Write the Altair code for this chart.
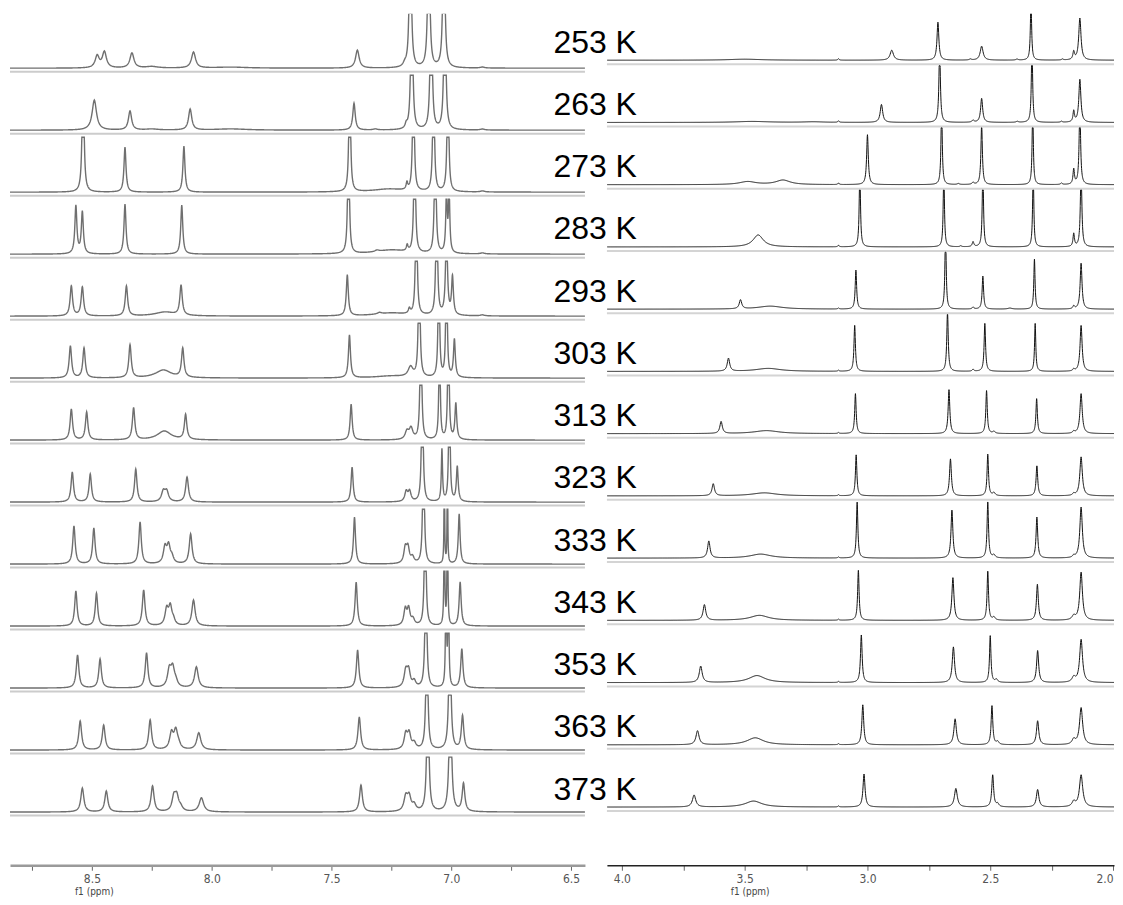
import numpy as np
import pandas as pd
import altair as alt

alt.data_transformers.disable_max_rows()

TEMPS = [253, 263, 273, 283, 293, 303, 313, 323, 333, 343, 353, 363, 373]

# Peak tables: (ppm, height in px, half width at half max in ppm)
# Aromatic region (left panel)
ARO_253 = [(8.478, 12, 0.010), (8.448, 16, 0.010), (8.333, 15, 0.010), (8.25, 1.5, 0.03),
           (8.076, 16, 0.010), (7.92, 1, 0.08), (7.392, 18, 0.009), (7.194, 3, 0.008),
           (7.171, 200, 0.004), (7.094, 200, 0.004), (7.031, 200, 0.004), (6.87, 1, 0.01)]
ARO_263 = [(8.49, 30, 0.011), (8.341, 19, 0.008), (8.25, 1, 0.03), (8.09, 21, 0.008),
           (7.92, 1.2, 0.08), (7.406, 27, 0.006), (7.317, 1, 0.01), (7.188, 4, 0.005),
           (7.165, 200, 0.0038), (7.084, 200, 0.0038), (7.027, 200, 0.0038), (6.87, 1, 0.01)]
ARO_273 = [(8.537, 150, 0.004), (8.362, 45, 0.005), (8.116, 46, 0.005), (7.424, 150, 0.0035),
           (7.26, 3, 0.08), (7.185, 7, 0.004), (7.158, 150, 0.0035), (7.074, 150, 0.0035),
           (7.014, 150, 0.0035), (6.87, 1, 0.01)]
ARO_283 = [(8.567, 48, 0.005), (8.54, 42, 0.005), (8.362, 50, 0.005), (8.125, 49, 0.005),
           (7.429, 150, 0.0035), (7.31, 1.5, 0.01), (7.25, 4, 0.08), (7.184, 6, 0.004),
           (7.153, 150, 0.0035), (7.067, 150, 0.0035), (7.020, 60, 0.0035), (7.009, 60, 0.0035),
           (6.87, 1, 0.01)]
ARO_293 = [(8.586, 30, 0.006), (8.54, 29, 0.006), (8.356, 30, 0.006), (8.195, 4, 0.05),
           (8.128, 30, 0.006), (7.434, 41, 0.005), (7.30, 1.5, 0.01), (7.25, 3, 0.08),
           (7.175, 5, 0.005), (7.146, 150, 0.0035), (7.061, 150, 0.0035), (7.02, 90, 0.0045),
           (6.995, 38, 0.0045), (6.87, 1, 0.01)]
ARO_303 = [(8.59, 32, 0.006), (8.533, 30, 0.006), (8.341, 33, 0.006), (8.202, 8, 0.04),
           (8.121, 29, 0.006), (7.425, 43, 0.005), (7.25, 2, 0.08), (7.17, 10, 0.012),
           (7.134, 150, 0.0035), (7.052, 150, 0.003), (7.02, 150, 0.003), (6.987, 38, 0.0045)]
ARO_313 = [(8.586, 31, 0.006), (8.522, 28, 0.006), (8.326, 32, 0.006), (8.198, 9, 0.035),
           (8.109, 25, 0.006), (7.418, 36, 0.005), (7.185, 8, 0.009), (7.168, 11, 0.009),
           (7.127, 150, 0.0035), (7.049, 120, 0.003), (7.012, 150, 0.003), (6.981, 36, 0.0045)]
ARO_323 = [(8.582, 30, 0.006), (8.507, 28, 0.006), (8.317, 33, 0.006), (8.202, 10, 0.009),
           (8.188, 10, 0.009), (8.103, 25, 0.007), (7.414, 35, 0.005), (7.188, 10, 0.007),
           (7.174, 10, 0.007), (7.121, 150, 0.0035), (7.039, 52, 0.003), (7.008, 150, 0.003),
           (6.975, 35, 0.0045)]
ARO_333 = [(8.575, 38, 0.006), (8.492, 36, 0.006), (8.299, 42, 0.006), (8.195, 16, 0.008),
           (8.18, 17, 0.008), (8.166, 6, 0.008), (8.088, 30, 0.007), (7.404, 47, 0.005),
           (7.192, 15, 0.007), (7.181, 15, 0.007), (7.162, 6, 0.008), (7.116, 150, 0.0035),
           (7.029, 150, 0.0012), (7.016, 150, 0.0012), (6.967, 50, 0.0045)]
ARO_343 = [(8.567, 35, 0.006), (8.481, 33, 0.006), (8.284, 36, 0.0065), (8.188, 16, 0.008),
           (8.173, 18, 0.008), (8.16, 5, 0.008), (8.076, 26, 0.008), (7.397, 44, 0.0055),
           (7.192, 16, 0.007), (7.178, 16, 0.007), (7.16, 6, 0.008), (7.109, 150, 0.0035),
           (7.029, 150, 0.0017), (7.016, 150, 0.0017), (6.963, 44, 0.005)]
ARO_353 = [(8.56, 33, 0.0065), (8.466, 29, 0.0065), (8.272, 35, 0.0065), (8.177, 17, 0.009),
           (8.163, 18, 0.009), (8.15, 5, 0.009), (8.064, 21, 0.009), (7.391, 38, 0.006),
           (7.19, 16, 0.008), (7.178, 16, 0.008), (7.155, 6, 0.008), (7.106, 150, 0.0038),
           (7.022, 150, 0.002), (7.012, 150, 0.002), (6.956, 39, 0.0055)]
ARO_363 = [(8.549, 29, 0.007), (8.451, 25, 0.007), (8.257, 30, 0.007), (8.168, 16, 0.009),
           (8.15, 18, 0.009), (8.138, 4, 0.009), (8.054, 17, 0.01), (7.384, 33, 0.0065),
           (7.19, 15, 0.008), (7.176, 15, 0.008), (7.155, 6, 0.009), (7.102, 150, 0.004),
           (7.006, 150, 0.0045), (6.953, 34, 0.006)]
ARO_373 = [(8.54, 24, 0.0075), (8.44, 21, 0.0075), (8.247, 26, 0.0075), (8.158, 14, 0.009),
           (8.146, 14, 0.009), (8.13, 4, 0.01), (8.043, 14, 0.011), (7.377, 27, 0.007),
           (7.19, 14, 0.009), (7.176, 14, 0.009), (7.155, 6, 0.009), (7.098, 150, 0.0045),
           (7.004, 150, 0.005), (6.949, 28, 0.0065)]

# Aliphatic region (right panel)
ALI_253 = [(3.50, 1, 0.08), (3.118, 1.5, 0.003), (2.901, 10, 0.008), (2.713, 38, 0.0045),
           (2.581, 1, 0.005), (2.535, 14, 0.007), (2.391, 1, 0.005), (2.334, 60, 0.003),
           (2.206, 1, 0.004), (2.16, 8, 0.004), (2.135, 42, 0.0055)]
ALI_263 = [(3.47, 1, 0.08), (3.22, 0.6, 0.05), (3.118, 1.5, 0.003), (2.943, 18, 0.006),
           (2.706, 75, 0.0035), (2.57, 2, 0.005), (2.535, 24, 0.005), (2.39, 1, 0.005),
           (2.33, 80, 0.003), (2.21, 1, 0.004), (2.16, 11, 0.0035), (2.135, 43, 0.005)]
ALI_273 = [(3.488, 3, 0.04), (3.344, 4.5, 0.035), (3.118, 1.5, 0.003), (3.00, 50, 0.004),
           (2.698, 80, 0.003), (2.63, 1, 0.005), (2.57, 2, 0.005), (2.535, 60, 0.0035),
           (2.327, 80, 0.0028), (2.21, 1.5, 0.004), (2.16, 15, 0.0035), (2.135, 80, 0.0035)]
ALI_283 = [(3.445, 12, 0.025), (3.118, 1.5, 0.003), (3.031, 80, 0.003), (2.689, 80, 0.0028),
           (2.62, 1, 0.004), (2.57, 5, 0.004), (2.53, 80, 0.003), (2.325, 80, 0.0028),
           (2.16, 13, 0.0035), (2.13, 80, 0.0035)]
ALI_293 = [(3.517, 9, 0.006), (3.396, 3, 0.06), (3.118, 1, 0.003), (3.047, 39, 0.0035),
           (2.682, 80, 0.003), (2.57, 2, 0.004), (2.53, 33, 0.0035), (2.42, 1, 0.01),
           (2.32, 50, 0.003), (2.16, 3, 0.004), (2.13, 46, 0.0045)]
ALI_303 = [(3.566, 13, 0.006), (3.404, 3, 0.06), (3.118, 1, 0.003), (3.052, 46, 0.0035),
           (2.674, 60, 0.0035), (2.57, 2, 0.004), (2.522, 48, 0.0035), (2.317, 48, 0.003),
           (2.16, 2, 0.004), (2.13, 46, 0.005)]
ALI_313 = [(3.596, 12, 0.006), (3.411, 3, 0.06), (3.118, 1, 0.003), (3.049, 40, 0.0035),
           (2.668, 44, 0.004), (2.515, 43, 0.0035), (2.485, 2, 0.006), (2.311, 35, 0.0035),
           (2.16, 2, 0.005), (2.13, 40, 0.0055)]
ALI_323 = [(3.628, 12, 0.006), (3.42, 3, 0.06), (3.118, 1, 0.003), (3.046, 41, 0.0035),
           (2.662, 37, 0.0045), (2.51, 41.6, 0.0035), (2.485, 3, 0.006), (2.31, 30, 0.004),
           (2.16, 2, 0.005), (2.13, 39, 0.006)]
ALI_333 = [(3.646, 17, 0.006), (3.435, 4, 0.05), (3.118, 1, 0.003), (3.042, 56, 0.0035),
           (2.656, 48, 0.0045), (2.51, 56, 0.0035), (2.485, 3, 0.006), (2.31, 41, 0.004),
           (2.16, 2, 0.005), (2.13, 51, 0.006)]
ALI_343 = [(3.664, 15.6, 0.0065), (3.44, 5, 0.045), (3.118, 1, 0.003), (3.037, 50, 0.0035),
           (2.652, 42.7, 0.005), (2.51, 49, 0.0035), (2.485, 3, 0.006), (2.308, 36, 0.0045),
           (2.16, 4, 0.008), (2.13, 48, 0.0065)]
ALI_353 = [(3.679, 16.4, 0.007), (3.45, 7, 0.04), (3.118, 1, 0.003), (3.025, 47.6, 0.004),
           (2.65, 35.7, 0.0055), (2.50, 46.8, 0.0035), (2.475, 3, 0.006), (2.307, 32, 0.005),
           (2.16, 5, 0.008), (2.13, 43, 0.007)]
ALI_363 = [(3.692, 14, 0.0075), (3.457, 7, 0.04), (3.118, 1, 0.003), (3.019, 40, 0.0045),
           (2.643, 26, 0.006), (2.493, 39, 0.004), (2.47, 3, 0.006), (2.307, 24, 0.0055),
           (2.16, 5, 0.008), (2.13, 37, 0.0075)]
ALI_373 = [(3.706, 12, 0.008), (3.464, 6, 0.04), (3.118, 1, 0.003), (3.014, 33, 0.005),
           (2.64, 18.6, 0.007), (2.49, 32, 0.0045), (2.47, 3, 0.006), (2.307, 17.5, 0.006),
           (2.16, 5, 0.008), (2.13, 32, 0.008)]

ARO = [ARO_253, ARO_263, ARO_273, ARO_283, ARO_293, ARO_303, ARO_313,
       ARO_323, ARO_333, ARO_343, ARO_353, ARO_363, ARO_373]
ALI = [ALI_253, ALI_263, ALI_273, ALI_283, ALI_293, ALI_303, ALI_313,
       ALI_323, ALI_333, ALI_343, ALI_353, ALI_363, ALI_373]

LEFT_DOMAIN = [8.842, 6.442]
RIGHT_DOMAIN = [4.061, 1.996]
LEFT_TICKS = [8.75, 8.5, 8.25, 8.0, 7.75, 7.5, 7.25, 7.0, 6.75, 6.5]
RIGHT_TICKS = [4.0, 3.75, 3.5, 3.25, 3.0, 2.75, 2.5, 2.25, 2.0]

# layout (pixel units of the y scale)
PLOT_H = 853
LEFT_BASE0, LEFT_PITCH, LEFT_CLIP = 798.5, 62.1, 55
RIGHT_BASE0, RIGHT_PITCH, RIGHT_CLIP = 806.5, 62.35, 57


def spectra(peak_lists, domain, base0, pitch, clip):
    hi, lo = domain
    frames = []
    for i, (t, peaks) in enumerate(zip(TEMPS, peak_lists)):
        parts = [np.arange(lo, hi, 0.002)]
        for p, h, w in peaks:
            parts.append(np.linspace(p - 8 * w, p + 8 * w, 81))
        x = np.unique(np.concatenate(parts))
        x = x[(x >= lo) & (x <= hi)]
        y = np.zeros_like(x)
        for p, h, w in peaks:
            y += h / (1.0 + ((x - p) / w) ** 2)
        y = np.minimum(y, clip)
        frames.append(pd.DataFrame({
            "ppm": np.round(x, 5),
            "v": np.round(base0 - pitch * i + y, 2),
            "temp": f"{t} K",
        }))
    return pd.concat(frames, ignore_index=True)


left_df = spectra(ARO, LEFT_DOMAIN, LEFT_BASE0, LEFT_PITCH, LEFT_CLIP)
right_df = spectra(ALI, RIGHT_DOMAIN, RIGHT_BASE0, RIGHT_PITCH, RIGHT_CLIP)

left_sep = pd.DataFrame({"v": [LEFT_BASE0 - 3.5 - LEFT_PITCH * i for i in range(len(TEMPS))]})
right_sep = pd.DataFrame({"v": [RIGHT_BASE0 - 4 - RIGHT_PITCH * i for i in range(len(TEMPS))]})
labels = pd.DataFrame({"label": [f"{t} K" for t in TEMPS],
                       "v": [RIGHT_BASE0 + 17.5 - RIGHT_PITCH * i for i in range(len(TEMPS))]})

yscale = alt.Scale(domain=[0, PLOT_H], nice=False, zero=False)
LABEL_EXPR = "(round(datum.value*100) % 50 == 0) ? format(datum.value, '.1f') : ''"
AXIS_FONT = "Liberation Sans Narrow, DejaVu Sans Condensed, Arial Narrow, sans-serif"


def xaxis(values, title_x, domain_color, domain_width, flush):
    return alt.Axis(values=values, labelExpr=LABEL_EXPR, title="f1 (ppm)", grid=False,
                    domainColor=domain_color, domainWidth=domain_width,
                    tickColor="#666666", tickWidth=1, tickSize=5,
                    labelFont=AXIS_FONT, labelFontSize=12, labelColor="#555555",
                    labelPadding=3, labelFlush=flush,
                    titleFont=AXIS_FONT, titleFontSize=10, titleFontWeight="normal",
                    titleColor="#444444", titleX=title_x, titleY=26,
                    titleAlign="center", titleBaseline="middle")


left_sep_layer = alt.Chart(left_sep).mark_rule(color="#cccccc", strokeWidth=2).encode(
    y=alt.Y("v:Q", scale=yscale, axis=None))
left_line = alt.Chart(left_df).mark_line(color="#6f6f6f", strokeWidth=1.4, clip=True).encode(
    x=alt.X("ppm:Q", scale=alt.Scale(domain=LEFT_DOMAIN, nice=False, zero=False),
            axis=xaxis(LEFT_TICKS, 84, "#9a9a9a", 2.5, False)),
    y=alt.Y("v:Q", scale=yscale, axis=None),
    detail="temp:N")
left = alt.layer(left_sep_layer, left_line).properties(width=576, height=PLOT_H)

right_sep_layer = alt.Chart(right_sep).mark_rule(color="#d4d4d4", strokeWidth=2).encode(
    y=alt.Y("v:Q", scale=yscale, axis=None))
right_line = alt.Chart(right_df).mark_line(color="#111111", strokeWidth=1.0, clip=True).encode(
    x=alt.X("ppm:Q", scale=alt.Scale(domain=RIGHT_DOMAIN, nice=False, zero=False),
            axis=xaxis(RIGHT_TICKS, 143, "#222222", 1.5, True)),
    y=alt.Y("v:Q", scale=yscale, axis=None),
    detail="temp:N")
right_text = alt.Chart(labels).mark_text(
    align="right", baseline="middle", font="Liberation Sans", fontSize=32, color="#000000"
).encode(x=alt.value(30), y=alt.Y("v:Q", scale=yscale, axis=None), text="label:N")
right = alt.layer(right_sep_layer, right_line, right_text).properties(width=508, height=PLOT_H)

chart = alt.hconcat(left, right, spacing=22, bounds="flush").properties(
    padding={"left": 1, "top": 5, "right": 0, "bottom": 0}
).configure_view(stroke=None)

chart.save("out.html", embed_options={"renderer": "svg", "actions": False})
